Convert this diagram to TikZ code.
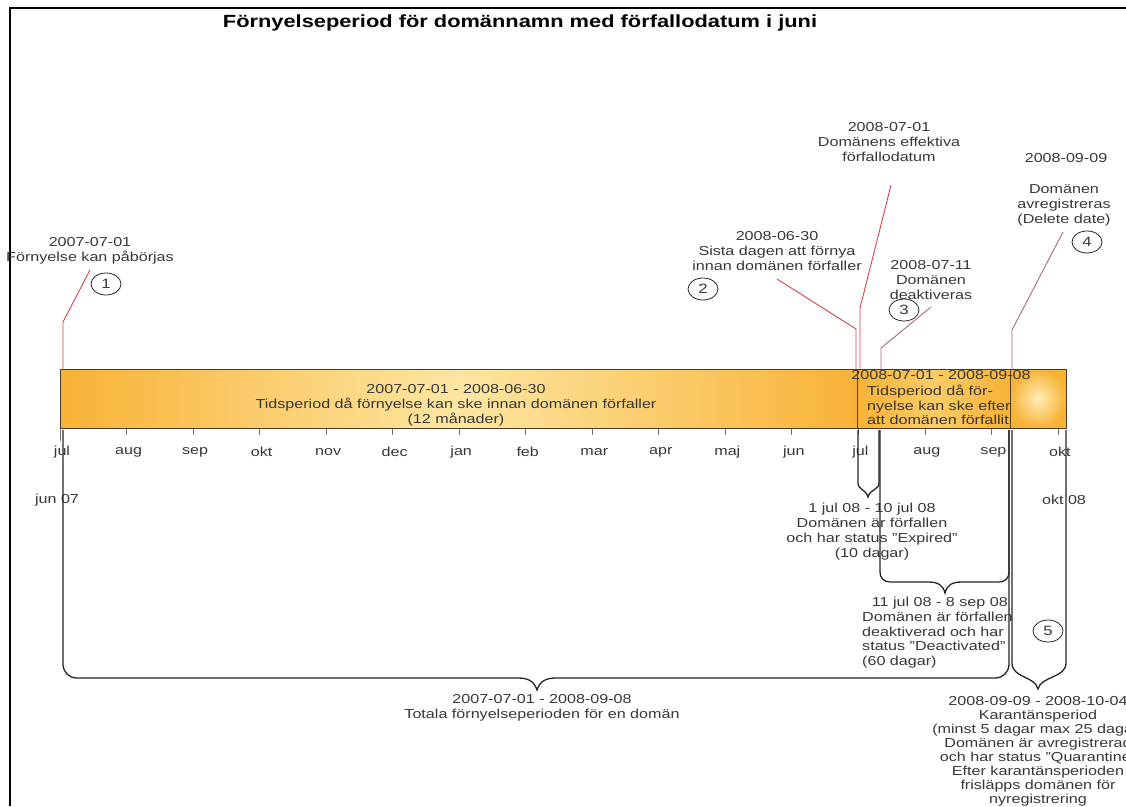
\documentclass[tikz,border=0pt]{standalone}
\usepackage{fontspec}
\setmainfont{Liberation Sans}[FakeStretch=1.24]
\usetikzlibrary{shapes.geometric}
\definecolor{txt}{HTML}{383838}
\definecolor{barO}{HTML}{F8B236}
\definecolor{barL}{HTML}{FDE6A2}
\definecolor{barM}{HTML}{FCCB66}
\definecolor{barC}{HTML}{FFEDB8}
\definecolor{redln}{HTML}{D04646}
\definecolor{mauve}{HTML}{A86A7E}
\definecolor{edge}{HTML}{4A3E2A}
\begin{document}
\begin{tikzpicture}[x=1pt,y=-1pt,
  lbl/.style={font=\fontsize{13}{15}\selectfont, text=txt, inner sep=0pt, align=center},
  lblq/.style={font=\fontsize{13}{14}\selectfont, text=txt, inner sep=0pt, align=center},
  lbll/.style={font=\fontsize{13}{14.5}\selectfont, text=txt, inner sep=0pt, align=left},
  num/.style={ellipse, draw=black!85, line width=0.8pt, minimum width=30pt, minimum height=22pt, inner sep=0pt, font=\fontsize{13.5}{15}\selectfont, text=txt},
  month/.style={font=\fontsize{13}{15}\selectfont, text=txt, inner sep=0pt},
  callr/.style={draw=redln, line width=0.9pt},
  callm/.style={draw=mauve, line width=0.9pt},
  brace/.style={draw=black!85, line width=1.3pt},
  tickmark/.style={draw=black!55, line width=0.8pt},
  barbox/.style={draw=edge, line width=0.9pt}]
\useasboundingbox (0,0) rectangle (1126,806);
\clip (0,0) rectangle (1126,806);
\fill[white] (0,0) rectangle (1126,806);
% frame
\draw[black, line width=1.4pt] (10,806) -- (10,8) -- (1130,8);
% title
\node[font=\bfseries\fontsize{17.6}{20}\selectfont, inner sep=0pt] (title) at (520,23) {Förnyelseperiod för domännamn med förfallodatum i juni};
% bars
\shade[left color=barO, right color=barO, middle color=barL] (60,369) rectangle (857,428);
\draw[barbox] (60,369) rectangle (857,428);
\shade[left color=barO, right color=barO, middle color=barM] (857,369) rectangle (1010,428);
\draw[barbox] (857,369) rectangle (1010,428);
\shade[inner color=barC, outer color=barO] (1010,369) rectangle (1066,428);
\draw[barbox] (1010,369) rectangle (1066,428);
\node[lbl] (bartxtA) at (456,405) {2007-07-01 - 2008-06-30\\Tidsperiod då förnyelse kan ske innan domänen förfaller\\(12 månader)};
\node[lbl] (bartxtB1) at (941,375) {2008-07-01 - 2008-09-08};
\node[lbll, anchor=west] (bartxtB2) at (867,405) {Tidsperiod då för-\\nyelse kan ske efter\\att domänen förfallit};
% ticks and months
\foreach \i in {0,...,15} \draw[tickmark] ({60+66.53*\i},429) -- ({60+66.53*\i},435);
\draw[tickmark] (60,428) -- (60,441);
\foreach \m [count=\i from 0] in {jul,aug,sep,okt,nov,dec,jan,feb,mar,apr,maj,jun,jul,aug,sep,okt}
  \node[month] (m\i) at ({62+66.53*\i},452) {\m};
\node[month] (jun07) at (57,500) {jun 07};
\node[month] (okt08) at (1064,500) {okt 08};
% top labels
\node[lbl] (lab1) at (90,251) {2007-07-01\\Förnyelse kan påbörjas};
\node[num] (c1) at (106,284) {1};
\node[lbl] (lab2) at (777,251) {2008-06-30\\Sista dagen att förnya\\innan domänen förfaller};
\node[num] (c2) at (703,289) {2};
\node[lbl] (labE) at (889,142) {2008-07-01\\Domänens effektiva\\förfallodatum};
\node[lbl] (lab3) at (931,280) {2008-07-11\\Domänen\\deaktiveras};
\node[num] (c3) at (904,310) {3};
\node[lbl] (lab4a) at (1066,158) {2008-09-09};
\node[lbl] (lab4b) at (1064,205) {Domänen\\avregistreras\\(Delete date)};
\node[num] (c4) at (1087,242) {4};
% callout lines
\coordinate (p1a) at (90,270); \coordinate (p1b) at (63,322); \coordinate (p1c) at (63,369);
\draw[callr] (p1a) -- (p1b) -- (p1c);
\coordinate (p2a) at (777,279); \coordinate (p2b) at (856,329); \coordinate (p2c) at (856,369);
\draw[callr] (p2a) -- (p2b) -- (p2c);
\coordinate (pEa) at (891,185); \coordinate (pEb) at (860,308); \coordinate (pEc) at (860,369);
\draw[callr] (pEa) -- (pEb) -- (pEc);
\coordinate (p3a) at (931,307); \coordinate (p3b) at (881,348); \coordinate (p3c) at (881,369);
\draw[callm] (p3a) -- (p3b) -- (p3c);
\coordinate (p4a) at (1063,232); \coordinate (p4b) at (1012,330); \coordinate (p4c) at (1012,369);
\draw[callm] (p4a) -- (p4b) -- (p4c);
% bottom texts
\node[lbl] (txtExp) at (872,532) {1 jul 08 - 10 jul 08\\Domänen är förfallen\\och har status "Expired"\\(10 dagar)};
\node[lbl, anchor=east] (txtDe1) at (1008,603) {11 jul 08 - 8 sep 08};
\node[lbll, anchor=west] (txtDe2) at (862,640) {Domänen är förfallen\\deaktiverad och har\\status "Deactivated"\\(60 dagar)};
\node[lbl] (txtTot) at (542,708) {2007-07-01 - 2008-09-08\\Totala förnyelseperioden för en domän};
\node[lblq] (txtQ) at (1038,751) {2008-09-09 - 2008-10-04\\Karantänsperiod\\(minst 5 dagar max 25 dagar)\\Domänen är avregistrerad\\och har status "Quarantine"\\Efter karantänsperioden\\frisläpps domänen för\\nyregistrering};
\node[num] (c5) at (1048,631) {5};
% braces
\draw[brace] (63,430) -- (63,664) .. controls (63,672) and (69,678) .. (77,678) -- (518,678)
  .. controls (528,678) and (534,681) .. (537,690)
  .. controls (540,681) and (546,678) .. (556,678) -- (995,678)
  .. controls (1003,678) and (1009,672) .. (1009,664) -- (1009,430);
\draw[brace] (858,430) -- (858,483) .. controls (858,490) and (866,489) .. (868,497)
  .. controls (870,489) and (879,490) .. (879,483) -- (879,430);
\draw[brace] (880,430) -- (880,572) .. controls (880,578) and (884,582) .. (890,582) -- (928,582)
  .. controls (938,582) and (943,585) .. (945,593)
  .. controls (947,585) and (952,582) .. (962,582) -- (999,582)
  .. controls (1005,582) and (1009,578) .. (1009,572) -- (1009,430);
\draw[brace] (1012,430) -- (1012,663) .. controls (1012,678) and (1035,676) .. (1038,689)
  .. controls (1041,676) and (1066,678) .. (1066,663) -- (1066,430);
\end{tikzpicture}
\end{document}
